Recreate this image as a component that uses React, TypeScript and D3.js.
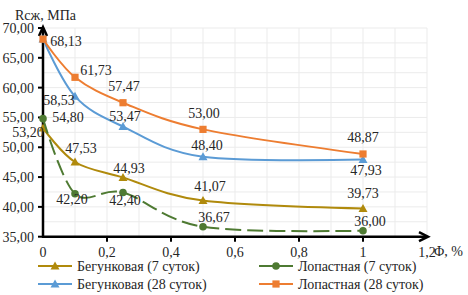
import React from "react";
import * as d3 from "d3";

const xValues = [0, 0.1, 0.25, 0.5, 1];
const begun7 = [53.2, 47.53, 44.93, 41.07, 39.73];
const lopast7 = [54.8, 42.2, 42.4, 36.67, 36.0];
const begun28 = [68.13, 58.53, 53.47, 48.4, 47.93];
const lopast28 = [68.13, 61.73, 57.47, 53.0, 48.87];
const seriesNames = ["Бегунковая (7 суток)", "Лопастная (7 суток)", "Бегунковая (28 суток)", "Лопастная (28 суток)"];
const yTicks = [35, 40, 45, 50, 55, 60, 65, 70];
const xTicks = [0, 0.2, 0.4, 0.6, 0.8, 1, 1.2];
const yTitle = "Rсж, МПа";
const xTitle = "Φ, %";

// label offsets (position styling), null = no label
const labelOffsets: ([number, number] | null)[][] = [
  [[-15, 4], [6, -14], [6, -9], [7, -14], [0, -15]],
  [[25, -1.6], [-3, 5], [2, 8], [11, -10], [7, -10]],
  [null, [-16, 4], [2, -10], [4, -12], [3, 10]],
  [[23, 1.6], [21, -7], [1, -17], [1, -16], [0, -17]],
];

const colors = ["#B08A0C", "#4E7A32", "#5B9BD5", "#ED7D31"];
const markers = ["triangle", "circle", "triangle", "square"];
const dashes = [null, "16 6", null, null];

const fmt = (v: number) => v.toFixed(2).replace(".", ",");
const fmtX = (v: number) => (v === 0 ? "0" : String(v).replace(".", ","));

function Marker({ type, x, y, color }: { type: string; x: number; y: number; color: string }) {
  if (type === "circle") return <circle cx={x} cy={y} r={3.8} fill={color} />;
  if (type === "square") return <rect x={x - 3.6} y={y - 3.6} width={7.2} height={7.2} fill={color} />;
  return <path d={`M${x},${y - 4.6}L${x + 4.5},${y + 3.4}L${x - 4.5},${y + 3.4}Z`} fill={color} />;
}

export default function App() {
  const W = 468, H = 295;
  const x = d3.scaleLinear().domain([0, 1.2]).range([43, 427]);
  const y = d3.scaleLinear().domain([35, 70]).range([236.7, 28]);
  const data = [begun7, lopast7, begun28, lopast28];
  const line = d3
    .line<number>()
    .x((_, i) => x(xValues[i]))
    .y((d) => y(d))
    .curve(d3.curveCardinal.tension(0));
  const tstyle: React.CSSProperties = { fontFamily: '"Liberation Serif", "Times New Roman", serif', fontSize: "14px" };
  const gridX = d3.range(1, 13).map((i) => i / 10);
  const gridY = d3.range(0, 15).map((i) => 35 + i * 2.5);
  const axisX = x(0), axisY = y(35);
  const legend = [
    { lx: 38, ty: 266 },
    { lx: 259, ty: 266 },
    { lx: 38, ty: 284 },
    { lx: 259, ty: 284 },
  ];
  return (
    <svg width={W} height={H} style={{ position: "absolute", left: 0, top: 0, background: "#fff" }}>
      {gridX.map((v) => (
        <line key={"gx" + v} x1={x(v)} x2={x(v)} y1={y(70)} y2={y(35)} stroke="#EBEBEB" strokeWidth={1} />
      ))}
      {gridY.map((v) => (
        <line key={"gy" + v} x1={x(0)} x2={x(1.2)} y1={y(v)} y2={y(v)} stroke="#EBEBEB" strokeWidth={1} />
      ))}
      {/* axes */}
      <line x1={axisX} x2={axisX} y1={axisY + 1} y2={y(70)} stroke="#000" strokeWidth={2.5} />
      <line x1={axisX - 1} x2={x(1.2)} y1={axisY} y2={axisY} stroke="#000" strokeWidth={2.5} />
      <path d={`M${axisX - 4},${y(70) + 8}L${axisX},${y(70) - 1}L${axisX + 4},${y(70) + 8}`} fill="none" stroke="#000" strokeWidth={2.5} />
      <path d={`M${x(1.2) - 8},${axisY - 4.5}L${x(1.2) + 1},${axisY}L${x(1.2) - 8},${axisY + 4.5}`} fill="none" stroke="#000" strokeWidth={2.5} />
      {yTicks.map((v) => (
        <g key={"yt" + v}>
          <line x1={axisX - 5} x2={axisX} y1={y(v)} y2={y(v)} stroke="#000" strokeWidth={2} />
          <text x={34} y={y(v)} dy="0.35em" textAnchor="end" style={tstyle} fill="#262626">
            {fmt(v)}
          </text>
        </g>
      ))}
      {xTicks.map((v) => (
        <g key={"xt" + v}>
          {v > 0 && v < 1.2 && <line x1={x(v)} x2={x(v)} y1={axisY} y2={axisY + 5} stroke="#000" strokeWidth={2} />}
          <text x={x(v)} y={252} dy="0.35em" textAnchor="middle" style={tstyle} fill="#262626">
            {fmtX(v)}
          </text>
        </g>
      ))}
      <text x={15} y={15} dy="0.35em" style={tstyle} fill="#262626">{yTitle}</text>
      <text x={434} y={251} dy="0.35em" style={tstyle} fill="#262626">{xTitle}</text>
      {/* series */}
      {data.map((s, si) => (
        <g key={"s" + si}>
          <path d={line(s) || ""} fill="none" stroke={colors[si]} strokeWidth={2} strokeDasharray={dashes[si] || undefined} />
          {s.map((v, i) => (
            <Marker key={i} type={markers[si]} x={x(xValues[i])} y={y(v)} color={colors[si]} />
          ))}
        </g>
      ))}
      {data.map((s, si) =>
        s.map((v, i) => {
          const off = labelOffsets[si][i];
          if (!off) return null;
          return (
            <text key={"l" + si + "-" + i} x={x(xValues[i]) + off[0]} y={y(v) + off[1]} dy="0.35em" textAnchor="middle" style={tstyle} fill="#262626">
              {fmt(v)}
            </text>
          );
        })
      )}
      {/* legend */}
      {seriesNames.map((n, i) => (
        <g key={"lg" + i}>
          <line x1={legend[i].lx} x2={legend[i].lx + 34} y1={legend[i].ty} y2={legend[i].ty} stroke={colors[i]} strokeWidth={2} />
          <Marker type={markers[i]} x={legend[i].lx + 17} y={legend[i].ty} color={colors[i]} />
          <text x={legend[i].lx + 39} y={legend[i].ty} dy="0.35em" style={tstyle} fill="#262626">
            {n}
          </text>
        </g>
      ))}
    </svg>
  );
}
